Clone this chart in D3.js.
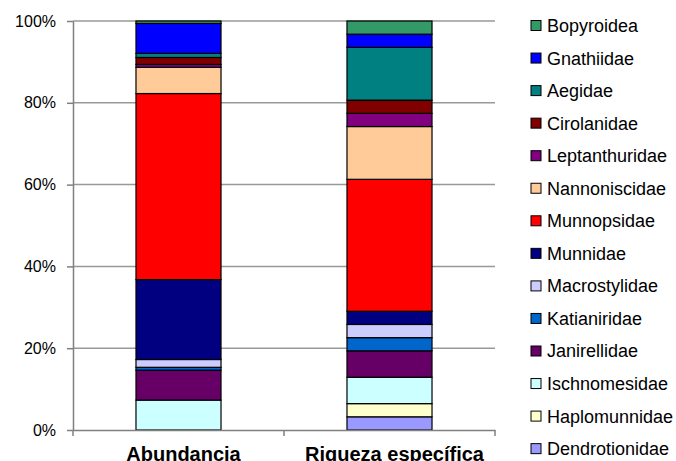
<!DOCTYPE html>
<html>
<head>
<meta charset="utf-8">
<script src="https://cdn.jsdelivr.net/npm/d3@7"></script>
<style>
  body { margin: 0; background: #fff; }
  text { font-family: "Liberation Sans", Arial, sans-serif; }
</style>
</head>
<body>
<svg></svg>
<script>
// chart size and paddings
var width = 676;
var height = 461;
var padding = { top: 21, right: 181, bottom: 31, left: 73 };

// data (legend order, top of stack first)
var families = ['Bopyroidea', 'Gnathiidae', 'Aegidae', 'Cirolanidae', 'Leptanthuridae',
  'Nannoniscidae', 'Munnopsidae', 'Munnidae', 'Macrostylidae', 'Katianiridae',
  'Janirellidae', 'Ischnomesidae', 'Haplomunnidae', 'Dendrotionidae'];
var colors = ['#339966', '#0000ff', '#008080', '#800000', '#800080',
  '#ffcc99', '#ff0000', '#000080', '#ccccff', '#0066cc',
  '#660066', '#ccffff', '#ffffcc', '#9999ff'];
var categories = ['Abundancia', 'Riqueza específica'];
// abundance in % of individuals
var abundancia = [0.6, 7.3, 1.0, 1.7, 0.7, 6.4, 45.4, 19.5, 1.9, 0.7, 7.3, 7.3, 0, 0];
// number of species per family
var riqueza = [1, 1, 4, 1, 1, 4, 10, 1, 1, 1, 2, 2, 1, 1];
var yTicks = [0, 0.2, 0.4, 0.6, 0.8, 1];

var rows = categories.map(function(c, i) {
  var row = { cat: c };
  var src = i === 0 ? abundancia : riqueza;
  families.forEach(function(f, j) { row[f] = src[j]; });
  return row;
});

// stack bottom -> top, so reverse the legend order
var stack = d3.stack()
  .keys(families.slice().reverse())
  .offset(d3.stackOffsetExpand);
var series = stack(rows);

var color = d3.scaleOrdinal().domain(families).range(colors);

var xScale = d3.scaleBand()
  .domain(categories)
  .range([padding.left, width - padding.right])
  .paddingInner(0.597)
  .paddingOuter(0.2985);

var yScale = d3.scaleLinear()
  .domain([0, 1])
  .range([height - padding.bottom - padding.top + padding.top - 0, padding.top]);
yScale.range([430, 21]);

var svg = d3.select('svg')
  .attr('width', width)
  .attr('height', height);

// gridlines
svg.append('g')
  .selectAll('line')
  .data(yTicks.filter(d => d > 0))
  .enter()
  .append('line')
    .attr('x1', padding.left)
    .attr('x2', width - padding.right)
    .attr('y1', d => yScale(d))
    .attr('y2', d => yScale(d))
    .style('stroke', '#999')
    .style('stroke-width', 1.5);

// bars
svg.append('g')
  .selectAll('g')
  .data(series)
  .enter()
  .append('g')
    .style('fill', d => color(d.key))
  .selectAll('rect')
  .data(d => d)
  .enter()
  .append('rect')
    .attr('x', d => xScale(d.data.cat))
    .attr('y', d => yScale(d[1]))
    .attr('width', xScale.bandwidth())
    .attr('height', d => yScale(d[0]) - yScale(d[1]))
    .style('stroke', '#000')
    .style('stroke-width', 1.2);

// y axis
var yAxis = d3.axisLeft(yScale)
  .tickValues(yTicks)
  .tickFormat(d3.format('.0%'))
  .tickSizeInner(6)
  .tickSizeOuter(0)
  .tickPadding(11);

var gy = svg.append('g')
  .attr('transform', 'translate(' + padding.left + ',0)')
  .call(yAxis);
gy.selectAll('path, line').style('stroke', '#808080').style('stroke-width', 1.5);
gy.selectAll('text').style('font-size', '16px').style('fill', '#000');

// x axis, ticks between categories
var xAxis = d3.axisBottom(xScale).tickSize(0).tickPadding(0);
var gx = svg.append('g')
  .attr('transform', 'translate(0,' + yScale(0) + ')')
  .call(xAxis);
gx.select('path').style('stroke', '#808080').style('stroke-width', 1.5);
gx.selectAll('text')
  .attr('y', 31)
  .attr('dy', 0)
  .attr('dx', 5)
  .style('font-size', '20px')
  .style('font-weight', 'bold')
  .style('fill', '#000');
gx.selectAll('.sep')
  .data(d3.range(categories.length + 1))
  .enter()
  .append('line')
    .attr('x1', i => xScale.range()[0] + i * xScale.step())
    .attr('x2', i => xScale.range()[0] + i * xScale.step())
    .attr('y1', 0)
    .attr('y2', 6)
    .style('stroke', '#808080')
    .style('stroke-width', 1.5);

// legend
var legend = svg.append('g')
  .selectAll('g')
  .data(families)
  .enter()
  .append('g')
    .attr('transform', (d, i) => 'translate(531,' + (25.5 + i * 32.55) + ')');

legend.append('rect')
  .attr('x', 0)
  .attr('y', -5)
  .attr('width', 10)
  .attr('height', 10)
  .style('fill', d => color(d))
  .style('stroke', '#000')
  .style('stroke-width', 1);

legend.append('text')
  .attr('x', 16)
  .attr('dy', '0.36em')
  .style('font-size', '18px')
  .text(d => d);
</script>
</body>
</html>
